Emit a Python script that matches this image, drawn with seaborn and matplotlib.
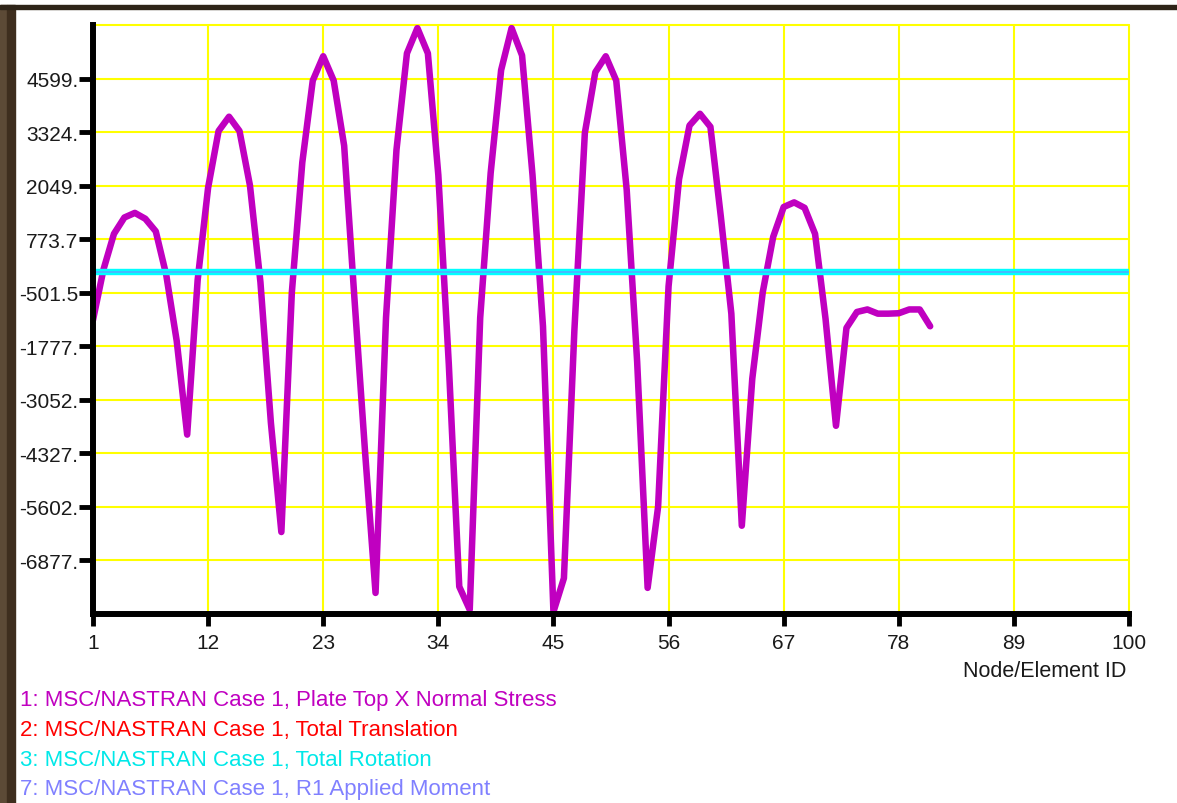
import numpy as np
import pandas as pd
import matplotlib
matplotlib.use("Agg")
import matplotlib.pyplot as plt
import seaborn as sns
from matplotlib.patches import Rectangle

# node ids and plate top X normal stress
node_ids = list(range(1, 82))
stress = [-1150, 50, 900, 1290, 1400, 1260, 960, -80, -1650, -3880,
          -200, 2000, 3350, 3690, 3350, 2050, -250, -3600, -6200, -500,
          2600, 4550, 5130, 4550, 3000, -700, -4300, -7650, -1100, 2900,
          5200, 5800, 5200, 2300, -2200, -7500, -8050, -1100, 2350, 4800,
          5800, 5150, 2300, -1300, -8100, -7300, -1400, 3300, 4750, 5130,
          4550, 1950, -2150, -7530, -5600, -350, 2200, 3480, 3760, 3450,
          1300, -1000, -6050, -2550, -490, 830, 1540, 1650, 1520, 900,
          -1120, -3670, -1340, -960, -900, -1000, -1000, -990, -900, -900,
          -1300]

# the flat series sitting on zero
flat_ids = [1, 100]
translation = [0.0, 0.0]
rotation = [0.0, 0.0]
moment = [0.0, 0.0]

x_ticks = [1, 12, 23, 34, 45, 56, 67, 78, 89, 100]
y_ticks = [-6877, -5602, -4327, -3052, -1777, -501.5, 773.7, 2049, 3324, 4599]
y_tick_labels = ["-6877.", "-5602.", "-4327.", "-3052.", "-1777.", "-501.5",
                 "773.7", "2049.", "3324.", "4599."]
y_min, y_max = -8152.2, 5874.2

legend_labels = ["1: MSC/NASTRAN Case 1, Plate Top X Normal Stress",
                 "2: MSC/NASTRAN Case 1, Total Translation",
                 "3: MSC/NASTRAN Case 1, Total Rotation",
                 "7: MSC/NASTRAN Case 1, R1 Applied Moment"]
legend_colors = ["#c000c0", "#ff0000", "#00e8e8", "#8080ff"]

sns.set_style("white")
plt.rcParams['font.family'] = ['Liberation Sans', 'DejaVu Sans']

W, H = 1177, 804
fig = plt.figure(figsize=(W / 100, H / 100), dpi=100)
fig.patch.set_facecolor("white")

# window frame bits
fig.patches.append(Rectangle((0, 0), 7 / W, (H - 6) / H, transform=fig.transFigure,
                             color="#5c4a36", zorder=0))
fig.patches.append(Rectangle((7 / W, 0), 8 / W, (H - 6) / H, transform=fig.transFigure,
                             color="#3e2e1e", zorder=0))
fig.patches.append(Rectangle((0, 1 - 10 / H), 1, 4 / H, transform=fig.transFigure,
                             color="#2e2418", zorder=0))

ax = fig.add_axes([93 / W, 1 - 615 / H, (1129 - 93) / W, (615 - 26) / H])
ax.set_facecolor("white")

df = pd.DataFrame({"node": node_ids, "stress": stress})
sns.lineplot(data=df, x="node", y="stress", ax=ax, color="#c000c0", lw=4.7,
             estimator=None, legend=False, zorder=3,
             solid_joinstyle="round", solid_capstyle="round")
sns.lineplot(x=flat_ids, y=translation, ax=ax, color="#ff0000", lw=2,
             estimator=None, legend=False, zorder=3.5)
sns.lineplot(x=flat_ids, y=rotation, ax=ax, color="#00ffff", lw=4.6,
             estimator=None, legend=False, zorder=4)
sns.lineplot(x=flat_ids, y=moment, ax=ax, color="#8080ff", lw=1.3, alpha=0.6,
             estimator=None, legend=False, zorder=5)

ax.set_xlim(1, 100)
ax.set_ylim(y_min, y_max)
ax.set_xticks(x_ticks)
ax.set_xticklabels([str(v) for v in x_ticks])
ax.set_yticks(y_ticks)
ax.set_yticklabels(y_tick_labels)
ax.set_xlabel("")
ax.set_ylabel("")

ax.grid(True, color="#ffff00", lw=1.5)
ax.set_axisbelow(True)
for gl in ax.xaxis.get_gridlines():
    gl.set_clip_on(False)
ax.axhline(y_max, color="#ffff00", lw=1.5, clip_on=False, zorder=0.5)

for side in ["top", "right"]:
    ax.spines[side].set_visible(False)
for side in ["left", "bottom"]:
    ax.spines[side].set_color("black")
    ax.spines[side].set_linewidth(4.3)
    ax.spines[side].set_zorder(6)

ax.tick_params(axis="y", length=10, width=3.5, color="black", pad=0.5,
               labelsize=15, labelcolor="#1a1a1a", left=True)
ax.tick_params(axis="x", length=8.5, width=3.5, color="black", pad=5,
               labelsize=15, labelcolor="#1a1a1a", bottom=True)

fig.text(1126 / W, 1 - 672 / H, "Node/Element ID", ha="right", va="center",
         fontsize=15.5, color="#1a1a1a")

baselines = [706, 736, 766, 795]
for label, color, yb in zip(legend_labels, legend_colors, baselines):
    fig.text(20 / W, 1 - yb / H, label, ha="left", va="baseline",
             fontsize=16, color=color)

fig.savefig("out.png", dpi=100)
